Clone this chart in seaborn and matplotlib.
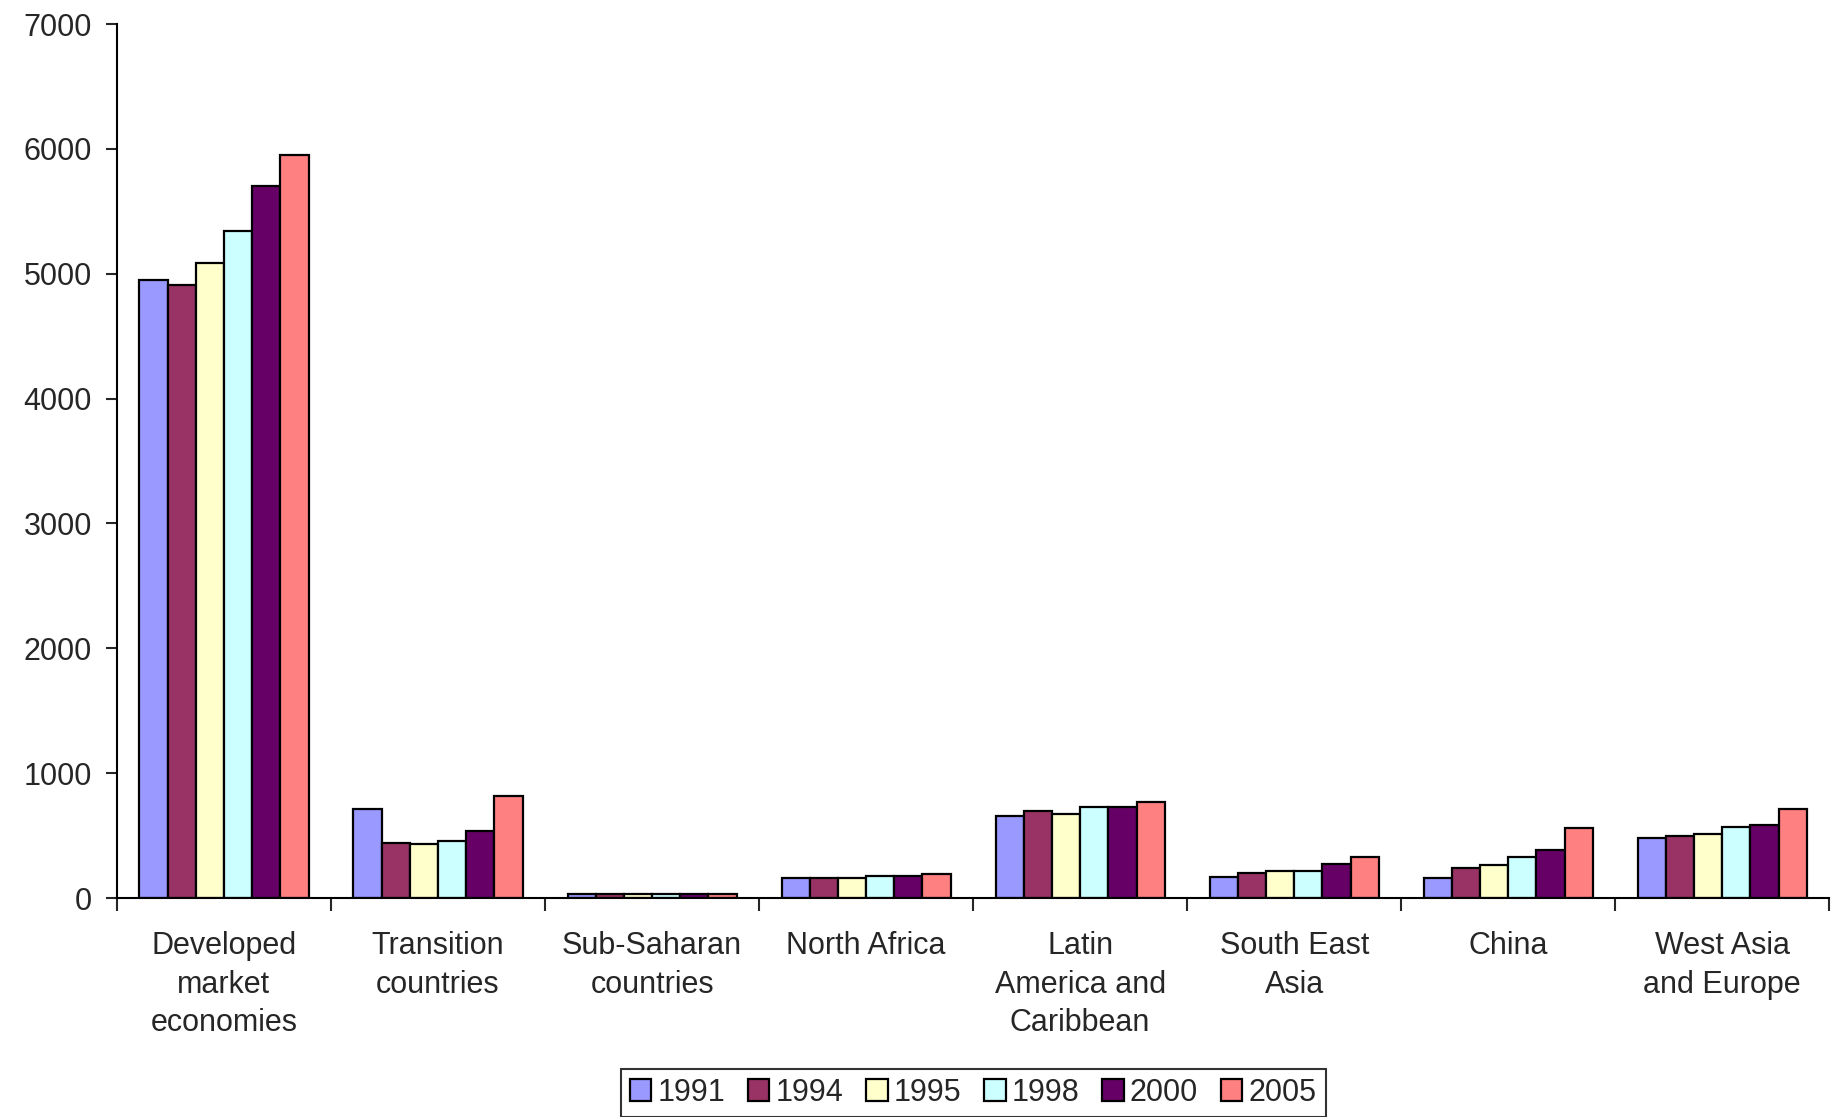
import pandas as pd
import matplotlib.pyplot as plt
import seaborn as sns

# ---- data ----
regions = ["Developed\nmarket\neconomies", "Transition\ncountries", "Sub-Saharan\ncountries",
           "North Africa", "Latin\nAmerica and\nCaribbean", "South East\nAsia", "China",
           "West Asia\nand Europe"]
years = ["1991", "1994", "1995", "1998", "2000", "2005"]

v1991 = [4950, 714, 30, 160, 658, 166, 163, 482]
v1994 = [4910, 441, 30, 160, 695, 200, 238, 500]
v1995 = [5090, 433, 30, 158, 677, 217, 267, 514]
v1998 = [5340, 460, 30, 174, 730, 215, 326, 570]
v2000 = [5700, 535, 30, 176, 730, 273, 383, 588]
v2005 = [5950, 819, 30, 195, 770, 326, 559, 714]

colors = ["#9999FF", "#993366", "#FFFFCC", "#CCFFFF", "#660066", "#FF8080"]

series = [v1991, v1994, v1995, v1998, v2000, v2005]
rows = []
for yr, vals in zip(years, series):
    for reg, v in zip(regions, vals):
        rows.append({"Region": reg, "Year": yr, "Value": v})
df = pd.DataFrame(rows)

sns.set_style("white")
plt.rcParams["font.family"] = ["Liberation Sans", "DejaVu Sans"]

fig = plt.figure(figsize=(18.33, 11.17), dpi=100)
ax = fig.add_axes([0.0638, 0.196, 0.9342, 0.7825])

sns.barplot(data=df, x="Region", y="Value", hue="Year", order=regions, hue_order=years,
            palette=colors, edgecolor="black", linewidth=1.6, width=0.79,
            saturation=1, ax=ax, legend=True)

ax.set_ylim(0, 7000)
ax.set_xlim(-0.5, len(regions) - 0.5)
ax.set_yticks(range(0, 7001, 1000))
ax.tick_params(axis="y", labelsize=22, length=8, width=1.5, direction="out", pad=10, left=True)

# ticks between groups, labels centred on groups
ax.set_xticks([i - 0.5 for i in range(len(regions) + 1)])
ax.set_xticklabels([])
ax.set_xticks(range(len(regions)), minor=True)
ax.set_xticklabels(regions, minor=True, fontsize=22, linespacing=1.36, va="top")
ax.tick_params(axis="x", which="major", length=9, width=1.5, direction="out", bottom=True)
ax.tick_params(axis="x", which="minor", length=0, pad=24)

for s in ["top", "right"]:
    ax.spines[s].set_visible(False)
for s in ["left", "bottom"]:
    ax.spines[s].set_color("black")
    ax.spines[s].set_linewidth(1.5)

ax.set_xlabel("")
ax.set_ylabel("")

ax.legend(loc="lower center", bbox_to_anchor=(0.5, -0.268), ncol=6, fontsize=22,
          frameon=True, fancybox=False, edgecolor="black", handlelength=0.7,
          handleheight=0.7, handletextpad=0.2, columnspacing=0.75, borderpad=0.3)
ax.get_legend().get_frame().set_linewidth(1.5)

fig.savefig("out.png", dpi=100)
